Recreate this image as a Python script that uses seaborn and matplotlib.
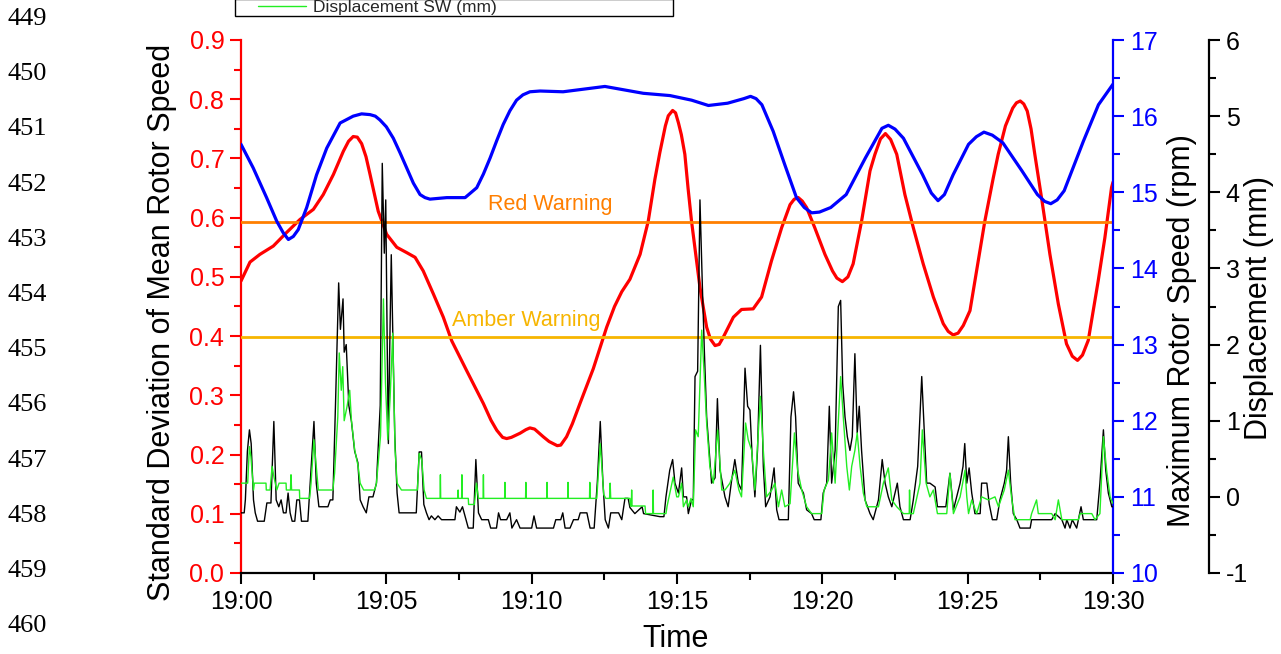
import numpy as np
import matplotlib
matplotlib.use("Agg")
import matplotlib.pyplot as plt
from matplotlib.legend_handler import HandlerLine2D
import seaborn as sns

# ---------------- data ----------------
time_ticks = [0, 5, 10, 15, 20, 25, 30]
time_labels = ["19:00", "19:05", "19:10", "19:15", "19:20", "19:25", "19:30"]

red_warning = 0.592
amber_warning = 0.398

# Standard deviation of mean rotor speed (left axis)
red_t = [0.00, 0.31, 0.65, 1.11, 1.57, 2.03, 2.49, 2.83, 3.18, 3.52, 3.70, 3.86, 4.00, 4.15,
         4.30, 4.44, 4.72, 5.01, 5.36, 5.70, 5.99, 6.27, 6.62, 6.96, 7.25, 7.76, 8.34, 8.60,
         8.80, 9.00, 9.14, 9.30, 9.60, 9.80, 9.94, 10.10, 10.40, 10.60, 10.88, 11.00, 11.20,
         11.40, 11.66, 12.12, 12.58, 12.85, 13.10, 13.38, 13.73, 14.01, 14.24, 14.41, 14.60, 14.70,
         14.85, 14.95, 15.05, 15.15, 15.27, 15.38, 15.50, 15.79, 16.02, 16.15, 16.31, 16.45,
         16.59, 16.94, 17.22, 17.62, 17.91, 18.25, 18.60, 18.89, 19.03, 19.17, 19.31, 19.46,
         19.74, 20.09, 20.35, 20.50, 20.69, 20.88, 21.06, 21.35, 21.64, 21.81, 21.92, 22.00,
         22.17, 22.35, 22.45, 22.56, 22.84, 23.13, 23.47, 23.82, 24.16, 24.33, 24.50, 24.67,
         24.85, 25.08, 25.25, 25.59, 25.88, 26.05, 26.30, 26.55, 26.68, 26.81, 26.93, 27.05,
         27.18, 27.31, 27.54, 27.83, 28.12, 28.40, 28.60, 28.78, 28.95, 29.15, 29.49, 29.72,
         29.95, 30.00]
red_v = [0.493, 0.525, 0.538, 0.552, 0.575, 0.597, 0.614, 0.639, 0.673, 0.712, 0.729, 0.737,
         0.736, 0.725, 0.703, 0.673, 0.611, 0.572, 0.550, 0.541, 0.533, 0.510, 0.471, 0.432,
         0.392, 0.342, 0.286, 0.258, 0.241, 0.229, 0.227, 0.229, 0.236, 0.242, 0.245, 0.243,
         0.230, 0.222, 0.215, 0.216, 0.230, 0.252, 0.286, 0.345, 0.415, 0.450, 0.475, 0.496,
         0.538, 0.594, 0.665, 0.710, 0.755, 0.772, 0.781, 0.777, 0.760, 0.740, 0.707, 0.650,
         0.594, 0.482, 0.415, 0.395, 0.384, 0.386, 0.398, 0.432, 0.445, 0.446, 0.466, 0.527,
         0.583, 0.622, 0.631, 0.634, 0.628, 0.617, 0.583, 0.538, 0.510, 0.498, 0.492, 0.500,
         0.522, 0.594, 0.679, 0.707, 0.722, 0.733, 0.742, 0.732, 0.720, 0.707, 0.639, 0.583,
         0.522, 0.466, 0.421, 0.408, 0.402, 0.405, 0.418, 0.443, 0.493, 0.594, 0.667, 0.707,
         0.755, 0.785, 0.794, 0.797, 0.792, 0.780, 0.750, 0.707, 0.634, 0.538, 0.454, 0.387,
         0.366, 0.359, 0.368, 0.393, 0.493, 0.566, 0.651, 0.660]

# Maximum rotor speed (rpm)
blue_t = [0.00, 0.42, 0.88, 1.23, 1.45, 1.63, 1.80, 1.97, 2.26, 2.60, 2.95, 3.41, 3.86, 4.15,
          4.44, 4.62, 4.78, 5.00, 5.24, 5.47, 5.70, 5.93, 6.16, 6.33, 6.50, 7.08, 7.71, 8.11,
          8.34, 8.57, 8.80, 9.02, 9.25, 9.48, 9.70, 9.94, 10.29, 11.08, 12.52, 13.84, 14.76,
          15.50, 16.08, 16.74, 17.30, 17.53, 17.72, 17.92, 18.31, 18.71, 19.11, 19.38, 19.63,
          19.90, 20.29, 20.82, 21.48, 22.05, 22.27, 22.50, 22.79, 23.45, 23.75, 23.98, 24.20,
          24.50, 25.03, 25.30, 25.56, 25.85, 26.21, 26.87, 27.40, 27.65, 27.86, 28.08, 28.32,
          28.98, 29.50, 30.00]
blue_v = [15.63, 15.32, 14.93, 14.62, 14.47, 14.38, 14.42, 14.51, 14.80, 15.23, 15.58, 15.91,
          16.00, 16.03, 16.02, 16.00, 15.95, 15.86, 15.71, 15.52, 15.32, 15.12, 14.97, 14.93,
          14.91, 14.93, 14.93, 15.06, 15.24, 15.45, 15.68, 15.89, 16.07, 16.21, 16.28, 16.32,
          16.33, 16.32, 16.39, 16.30, 16.27, 16.21, 16.14, 16.17, 16.23, 16.26, 16.23, 16.15,
          15.80, 15.36, 14.93, 14.80, 14.73, 14.74, 14.80, 14.97, 15.45, 15.84, 15.88, 15.83,
          15.71, 15.23, 14.99, 14.89, 14.97, 15.23, 15.63, 15.73, 15.79, 15.75, 15.65, 15.28,
          14.97, 14.88, 14.85, 14.90, 15.02, 15.67, 16.15, 16.42]

# Displacement (black trace, mm)
disp_t = [0.00, 0.11, 0.15, 0.22, 0.29, 0.35, 0.43, 0.49, 0.57, 0.80, 0.89, 1.03, 1.13, 1.21,
          1.30, 1.38, 1.46, 1.55, 1.62, 1.69, 1.76, 1.85, 1.92, 2.01, 2.08, 2.30, 2.38, 2.51,
          2.59, 2.68, 2.99, 3.07, 3.16, 3.25, 3.36, 3.42, 3.51, 3.55, 3.62, 3.71, 3.80, 3.91,
          4.02, 4.10, 4.20, 4.31, 4.40, 4.54, 4.66, 4.79, 4.86, 4.93, 4.98, 5.03, 5.07, 5.11,
          5.17, 5.23, 5.29, 5.37, 5.44, 6.03, 6.13, 6.21, 6.29, 6.38, 6.47, 6.55, 6.67, 6.78,
          6.90, 7.36, 7.41, 7.53, 7.62, 7.74, 7.82, 7.99, 8.08, 8.17, 8.28, 8.51, 8.59, 8.79,
          8.86, 8.93, 9.14, 9.25, 9.32, 9.48, 9.60, 10.00, 10.08, 10.17, 10.75, 10.83, 11.00,
          11.07, 11.15, 11.32, 11.44, 11.60, 11.67, 11.90, 12.01, 12.15, 12.26, 12.36, 12.45,
          12.53, 12.64, 12.72, 12.99, 13.10, 13.21, 13.32, 13.38, 13.55, 13.80, 13.85, 14.41,
          14.55, 14.62, 14.75, 14.85, 14.93, 15.05, 15.16, 15.22, 15.33, 15.39, 15.50, 15.56,
          15.62, 15.71, 15.79, 15.87, 15.94, 16.02, 16.19, 16.31, 16.39, 16.48, 16.65, 16.76,
          16.88, 16.99, 17.11, 17.22, 17.34, 17.43, 17.51, 17.59, 17.68, 17.77, 17.87, 17.97,
          18.05, 18.20, 18.34, 18.43, 18.51, 18.83, 18.92, 19.01, 19.08, 19.17, 19.35, 19.46,
          19.63, 19.72, 19.95, 20.03, 20.15, 20.24, 20.32, 20.44, 20.55, 20.63, 20.70, 20.78,
          20.86, 20.95, 21.03, 21.12, 21.20, 21.27, 21.35, 21.47, 21.64, 21.75, 21.93, 22.06,
          22.16, 22.27, 22.39, 22.58, 22.67, 22.79, 23.02, 23.13, 23.28, 23.42, 23.51, 23.59,
          23.70, 23.88, 23.96, 24.25, 24.39, 24.51, 24.74, 24.84, 24.90, 24.97, 25.05, 25.14,
          25.25, 25.43, 25.48, 25.66, 25.74, 25.85, 26.00, 26.11, 26.26, 26.34, 26.40, 26.48,
          26.57, 26.69, 26.80, 27.15, 27.20, 27.89, 28.01, 28.24, 28.35, 28.41, 28.52, 28.60,
          28.75, 28.81, 28.90, 28.98, 29.44, 29.55, 29.67, 29.75, 29.84, 29.96, 30.00]
disp_v = [-0.21, -0.21, -0.04, 0.60, 0.88, 0.70, -0.04, -0.21, -0.32, -0.32, -0.08, -0.08, 0.99,
          -0.04, -0.13, -0.04, -0.21, -0.21, 0.05, -0.21, -0.32, -0.32, -0.04, -0.04, -0.32,
          -0.32, 0.18, 0.99, 0.18, -0.13, -0.13, -0.04, -0.04, 1.20, 2.81, 2.20, 2.60, 1.90,
          2.00, 1.20, 0.99, 0.60, 0.45, -0.04, -0.13, -0.21, 0.00, 0.00, 0.18, 1.20, 4.38,
          3.20, 3.90, 2.00, 0.70, 1.80, 3.18, 2.00, 0.80, 0.05, -0.21, -0.21, 0.59, 0.59,
          -0.10, -0.21, -0.30, -0.25, -0.30, -0.25, -0.30, -0.30, -0.13, -0.20, -0.13, -0.30,
          -0.41, -0.41, 0.49, -0.21, -0.30, -0.30, -0.41, -0.41, -0.21, -0.30, -0.30, -0.21,
          -0.41, -0.30, -0.41, -0.41, -0.25, -0.41, -0.41, -0.30, -0.30, -0.21, -0.41, -0.41,
          -0.30, -0.30, -0.21, -0.21, -0.41, -0.41, 0.20, 0.99, 0.20, -0.30, -0.41, -0.21,
          -0.21, -0.30, -0.02, -0.02, -0.14, -0.22, -0.13, -0.22, -0.26, -0.26, 0.00, 0.35,
          0.49, 0.18, 0.05, 0.38, 0.00, 0.00, -0.22, -0.04, -0.04, 1.58, 1.65, 3.90, 2.80,
          1.93, 1.05, 0.18, 0.25, 1.29, 0.35, 0.00, -0.13, 0.22, 0.49, 0.18, 0.09, 1.69, 1.19,
          1.14, 0.49, 0.00, 0.61, 1.99, 0.40, -0.13, 0.00, 0.38, -0.17, -0.30, -0.30, 1.05,
          1.38, 1.05, 0.18, 0.05, -0.17, -0.22, -0.30, -0.30, 0.05, 0.18, 1.19, 0.18, 0.61,
          2.50, 2.58, 1.49, 1.05, 0.79, 0.61, 0.79, 1.88, 0.84, 1.19, 0.61, -0.04, -0.22,
          -0.30, -0.04, 0.49, 0.18, 0.00, -0.13, 0.18, -0.13, -0.30, -0.30, -0.04, 0.40, 1.58,
          0.84, 0.18, 0.18, 0.13, -0.13, -0.13, 0.31, -0.17, 0.18, 0.40, 0.70, 0.18, 0.38,
          0.05, -0.22, -0.22, 0.18, 0.18, -0.09, -0.30, -0.30, -0.04, 0.18, 0.35, 0.79, 0.18,
          -0.22, -0.30, -0.41, -0.41, -0.30, -0.30, -0.22, -0.30, -0.41, -0.30, -0.41, -0.30,
          -0.41, -0.30, -0.13, -0.30, -0.30, 0.18, 0.88, 0.35, 0.05, -0.13, -0.13]

# Displacement SW (green trace, mm)
sw_t = [0.00, 0.23, 0.29, 0.34, 0.43, 0.46, 0.86, 0.87, 1.00, 1.07, 1.14, 1.23, 1.31, 1.55,
        1.56, 1.70, 1.72, 1.74, 2.01, 2.02, 2.36, 2.41, 2.51, 2.59, 2.66, 3.16, 3.22, 3.33,
        3.38, 3.45, 3.50, 3.55, 3.65, 3.74, 3.80, 3.91, 4.03, 4.10, 4.22, 4.60, 4.66, 4.80,
        4.90, 4.97, 5.05, 5.13, 5.22, 5.30, 5.37, 5.52, 6.07, 6.13, 6.22, 6.30, 6.38, 6.85,
        6.86, 6.87, 7.46, 7.47, 7.48, 7.59, 7.60, 7.61, 7.82, 7.83, 8.03, 8.10, 8.17, 8.33,
        8.34, 8.35, 9.07, 9.08, 9.09, 9.79, 9.80, 9.81, 10.52, 10.53, 10.54, 11.24, 11.25,
        11.26, 11.99, 12.00, 12.01, 12.24, 12.36, 12.48, 12.55, 12.68, 12.70, 12.72, 13.38,
        13.40, 13.43, 13.44, 13.45, 13.90, 13.92, 14.17, 14.18, 14.19, 14.62, 14.66, 14.87,
        14.99, 15.05, 15.16, 15.22, 15.33, 15.39, 15.48, 15.56, 15.64, 15.73, 15.85, 15.94,
        16.02, 16.13, 16.25, 16.40, 16.54, 16.65, 16.82, 16.99, 17.13, 17.22, 17.36, 17.45,
        17.57, 17.68, 17.87, 17.97, 18.08, 18.26, 18.37, 18.49, 18.60, 18.71, 18.89, 19.04,
        19.15, 19.29, 19.46, 19.63, 19.98, 20.06, 20.21, 20.32, 20.44, 20.63, 20.72, 20.84,
        20.93, 21.01, 21.12, 21.20, 21.30, 21.41, 21.53, 21.93, 22.10, 22.27, 22.39, 22.56,
        22.79, 22.99, 23.00, 23.02, 23.13, 23.36, 23.44, 23.57, 23.70, 23.82, 23.96, 24.28,
        24.39, 24.51, 24.74, 24.91, 24.97, 25.03, 25.14, 25.31, 25.48, 25.71, 25.94, 26.06,
        26.26, 26.40, 26.52, 26.63, 27.15, 27.20, 27.37, 27.43, 27.89, 28.01, 28.12, 28.24,
        28.81, 28.87, 29.27, 29.38, 29.55, 29.67, 29.78, 29.90, 30.00]
sw_v = [0.18, 0.18, 0.66, 0.53, 0.09, 0.18, 0.18, 0.09, 0.09, 0.40, 0.25, 0.09, 0.18, 0.18,
        0.09, 0.09, 0.29, 0.09, 0.09, -0.02, -0.02, 0.18, 0.75, 0.40, 0.09, 0.09, 0.31, 1.05,
        1.89, 1.40, 1.71, 1.00, 1.19, 1.40, 1.00, 0.62, 0.40, 0.18, 0.09, 0.09, 0.18, 0.80,
        2.60, 1.50, 0.75, 1.30, 2.15, 0.62, 0.18, 0.09, 0.09, 0.57, 0.48, 0.09, -0.02, -0.02,
        0.29, -0.02, -0.02, 0.09, -0.02, -0.02, 0.29, -0.02, -0.02, -0.10, -0.10, 0.18, -0.02,
        -0.02, 0.29, -0.02, -0.02, 0.19, -0.02, -0.02, 0.19, -0.02, -0.02, 0.19, -0.02, -0.02,
        0.19, -0.02, -0.02, 0.19, -0.02, -0.02, 0.70, 0.03, -0.02, -0.02, 0.18, -0.02, -0.02,
        -0.12, -0.12, 0.09, -0.12, -0.12, -0.22, -0.22, 0.09, -0.22, -0.22, -0.12, 0.26, 0.00,
        0.00, 0.18, -0.13, -0.04, -0.13, -0.02, -0.13, 0.88, 0.79, 2.19, 1.58, 0.97, 0.40,
        0.18, 0.88, 0.09, 0.09, 0.18, 0.35, 0.09, 0.00, 0.97, 0.75, 0.61, 0.09, 1.32, 0.61,
        0.00, 0.09, 0.18, -0.13, 0.09, -0.13, -0.09, 0.84, 0.35, 0.09, -0.13, -0.22, -0.22,
        0.09, 0.22, 0.84, 0.18, 1.58, 1.05, 0.40, 0.09, 0.40, 0.61, 0.84, 0.40, 0.05, -0.13,
        -0.13, 0.18, 0.38, -0.04, -0.13, -0.22, -0.22, 0.09, -0.22, -0.22, 0.18, 0.88, 0.18,
        0.00, 0.09, -0.22, -0.22, 0.31, -0.22, 0.00, 0.35, 0.00, -0.22, -0.04, -0.22, 0.00,
        -0.04, 0.00, -0.13, 0.09, 0.35, -0.04, -0.30, -0.30, -0.22, -0.04, -0.22, -0.22,
        -0.30, -0.04, -0.30, -0.30, -0.22, -0.22, -0.30, -0.22, 0.79, 0.35, 0.00, -0.09]

line_numbers = ["449", "450", "451", "452", "453", "454", "455", "456", "457", "458", "459", "460"]

# ---------------- style ----------------
sns.set_style("white")
plt.rcParams["font.family"] = ["Liberation Sans", "DejaVu Sans"]
plt.rcParams["axes.unicode_minus"] = False

W, H = 1281, 654
fig = plt.figure(figsize=(W / 100, H / 100), dpi=100)

L, R, T, B = 241, 1113, 35, 570
ax = fig.add_axes([L / W, 1 - B / H, (R - L) / W, (B - T) / H])
ax.patch.set_alpha(0)
ax2 = ax.twinx()
ax3 = ax.twinx()
ax3.set_position([L / W, 1 - 573 / H, (R - L) / W, (573 - 40) / H])
for a in (ax2, ax3):
    a.patch.set_alpha(0)

RED = "#FF0000"
BLUE = "#0000FF"
ORANGE = "#FF7F00"
AMBER = "#F7B500"
GREEN = "#22EE22"
TICK_FS = 18
LABEL_FS = 22

# red curve + warnings
sns.lineplot(x=red_t, y=red_v, ax=ax, color=RED, linewidth=2.3, sort=False, estimator=None)
ax.axhline(red_warning, color=ORANGE, linewidth=2.0, zorder=5)
ax.axhline(amber_warning, color=AMBER, linewidth=2.0, zorder=5)
ax.text(10.63, red_warning + 0.013, "Red Warning", color=ORANGE, fontsize=15.5,
        ha="center", va="bottom")
ax.text(9.8, amber_warning + 0.01, "Amber Warning", color=AMBER, fontsize=15.5,
        ha="center", va="bottom")

# blue curve
sns.lineplot(x=blue_t, y=blue_v, ax=ax2, color=BLUE, linewidth=2.3, sort=False, estimator=None)

# displacement traces
sns.lineplot(x=disp_t, y=disp_v, ax=ax3, color="black", linewidth=1.0, sort=False, estimator=None)
sns.lineplot(x=sw_t, y=sw_v, ax=ax3, color=GREEN, linewidth=1.0, sort=False, estimator=None)

# ---------------- axes ----------------
ax.set_xlim(0, 30)
ax.set_ylim(0, 0.9)
ax2.set_ylim(10, 17)
ax3.set_ylim(-1, 6)

ax.set_xticks(time_ticks)
ax.set_xticklabels(time_labels)
ax.set_xticks(np.arange(2.5, 30, 5), minor=True)
ax.set_yticks(np.arange(0, 0.91, 0.1))
ax.set_yticklabels([f"{v:.1f}" for v in np.arange(0, 0.91, 0.1)])
ax.set_yticks(np.arange(0.05, 0.9, 0.1), minor=True)
ax2.set_yticks(range(10, 18))
ax2.set_yticks(np.arange(10.5, 17, 1), minor=True)
ax3.set_yticks(range(-1, 7))
ax3.set_yticks(np.arange(-0.5, 6, 1), minor=True)

for a in (ax, ax2, ax3):
    for s in a.spines.values():
        s.set_visible(False)
    a.set_xlabel("")
    a.set_ylabel("")

ax.spines["left"].set_visible(True)
ax.spines["left"].set_color(RED)
ax.spines["left"].set_linewidth(1.6)
ax.spines["bottom"].set_visible(True)
ax.spines["bottom"].set_color("black")
ax.spines["bottom"].set_linewidth(1.6)
ax2.spines["right"].set_visible(True)
ax2.spines["right"].set_color(BLUE)
ax2.spines["right"].set_linewidth(1.6)
ax3.spines["right"].set_visible(True)
ax3.spines["right"].set_color("black")
ax3.spines["right"].set_linewidth(1.6)
ax3.spines["right"].set_position(("axes", (1209 - L) / (R - L)))

ax.tick_params(axis="x", which="both", direction="out", colors="black", labelsize=TICK_FS,
               width=1.5, bottom=True, pad=4)
ax.tick_params(axis="x", which="major", length=8)
ax.tick_params(axis="x", which="minor", length=5)
ax.tick_params(axis="y", which="both", direction="out", colors=RED, labelsize=TICK_FS,
               width=1.5, left=True, pad=4)
ax.tick_params(axis="y", which="major", length=8)
ax.tick_params(axis="y", which="minor", length=5)
ax2.tick_params(axis="y", which="both", direction="out", colors=BLUE, labelsize=TICK_FS,
                width=1.5, right=True, pad=4)
ax2.tick_params(axis="y", which="major", length=8)
ax2.tick_params(axis="y", which="minor", length=5)
ax3.tick_params(axis="y", which="both", direction="out", colors="black", labelsize=TICK_FS,
                width=1.5, right=True, pad=4)
ax3.tick_params(axis="y", which="major", length=8)
ax3.tick_params(axis="y", which="minor", length=5)
ax2.tick_params(axis="x", which="both", bottom=False, labelbottom=False)
ax3.tick_params(axis="x", which="both", bottom=False, labelbottom=False)

ax.set_xlabel("Time", fontsize=LABEL_FS, color="black")
ax.xaxis.set_label_coords(0.498, -0.096)
ax.set_ylabel("Standard Deviation of Mean Rotor Speed", fontsize=LABEL_FS, color="black")
ax.yaxis.set_label_coords(-0.073, 0.47)
ax2.set_ylabel("Maximum Rotor Speed (rpm)", fontsize=LABEL_FS, color="black")
ax2.yaxis.set_label_coords(1.062, 0.455)
ax3.set_ylabel("Displacement (mm)", fontsize=LABEL_FS, color="black")
ax3.yaxis.set_label_coords(1.150, 0.498)

# clipped legend at top of figure
green_line = ax3.get_lines()[-1]
fig.legend([green_line], ["Displacement SW (mm)"], loc="lower left",
           bbox_to_anchor=(235 / W, 1 - 16 / H, (673 - 235) / W, 0.001), mode="expand",
           fontsize=12.5, frameon=True, fancybox=False, edgecolor="black",
           handlelength=4.06, handletextpad=0.4, borderaxespad=0, borderpad=0.05,
           handler_map={green_line: HandlerLine2D(xpad=1.3)})
leg = fig.legends[0]
leg.get_frame().set_linewidth(1.0)
leg.get_frame().set_alpha(1)

# manuscript line numbers
for i, n in enumerate(line_numbers):
    fig.text(8 / W, 1 - (19 + 55.2 * i) / H, n, fontsize=19, family="Liberation Serif",
             ha="left", va="center", color="black")

fig.savefig("out.png", dpi=100)
